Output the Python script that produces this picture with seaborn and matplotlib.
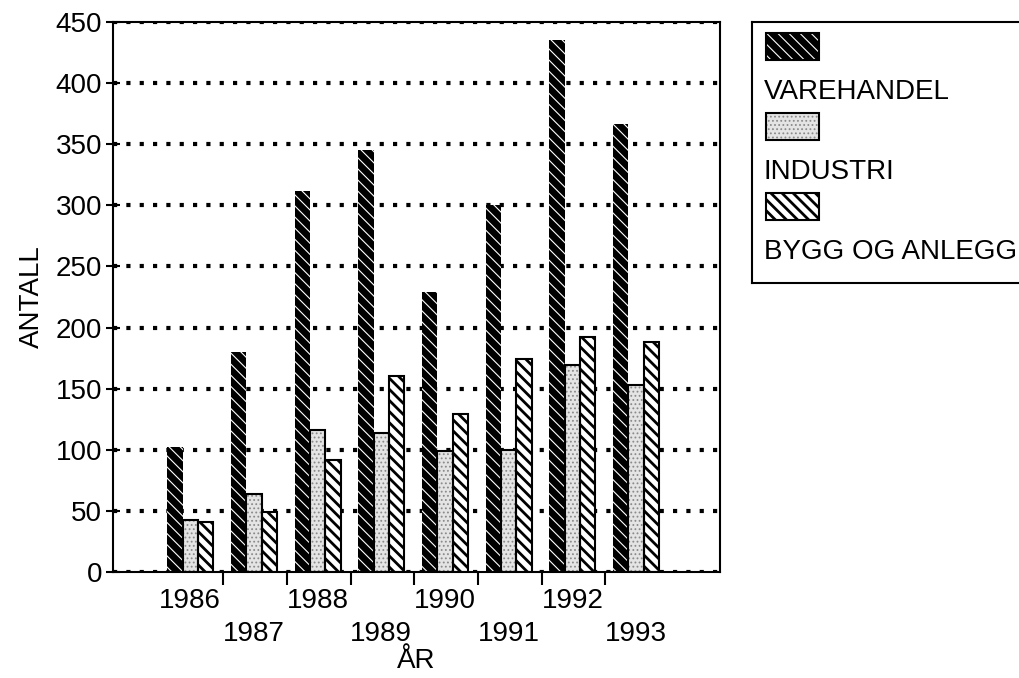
import numpy as np
import pandas as pd
import matplotlib
matplotlib.use("Agg")
import matplotlib.pyplot as plt
from matplotlib.patches import Rectangle
import seaborn as sns

# data
years = ["1986", "1987", "1988", "1989", "1990", "1991", "1992", "1993"]
varehandel = [102, 180, 312, 345, 229, 300, 435, 366]
industri = [43, 64, 116, 114, 99, 100, 169, 153]
bygg = [41, 49, 92, 160, 129, 174, 192, 188]
series = ["VAREHANDEL", "INDUSTRI", "BYGG OG ANLEGG"]

df = pd.DataFrame({
    "år": years * 3,
    "antall": varehandel + industri + bygg,
    "serie": [s for s in series for _ in years],
})

sns.set_theme(style="white")
plt.rcParams["font.family"] = ["Liberation Sans", "DejaVu Sans"]
plt.rcParams["font.size"] = 20

# look of each series: face, hatch colour, hatch, hatch width, outline width
styles = [
    dict(fc="black", ec="white", hatch="\\\\\\", hlw=0.8, olw=0),
    dict(fc="#e4e4e4", ec="#8a8a8a", hatch="....", hlw=0.8, olw=1.5),
    dict(fc="white", ec="black", hatch="\\\\\\", hlw=2.0, olw=1.5),
]


def style_patch(p, st, ax):
    p.set_facecolor(st["fc"])
    p.set_edgecolor(st["ec"])
    p.set_hatch(st["hatch"])
    p.set_linewidth(0)
    if hasattr(p, "set_hatch_linewidth"):
        p.set_hatch_linewidth(st["hlw"])
    if st["olw"] > 0:
        ax.add_patch(Rectangle(p.get_xy(), p.get_width(), p.get_height(),
                               fill=False, ec="black", lw=st["olw"], zorder=p.get_zorder() + 0.1))


fig = plt.figure(figsize=(10.2, 6.78), dpi=100)
ax = fig.add_axes([0.111, 0.156, 0.595, 0.812])

sns.barplot(data=df, x="år", y="antall", hue="serie", order=years, hue_order=series,
            width=0.72, gap=0, errorbar=None, legend=False, saturation=1,
            palette=["black", "#e4e4e4", "white"], ax=ax)

for cont, st in zip(ax.containers, styles):
    for p in cont:
        style_patch(p, st, ax)

ax.set_xlim(-1.21, 8.32)
ax.set_ylim(0, 450)
ax.set_yticks(np.arange(0, 451, 50))

# staggered year labels
ax.set_xticks(range(len(years)))
ax.set_xticklabels([y if i % 2 == 0 else "\n" + y for i, y in enumerate(years)])
plt.setp(ax.get_xticklabels(), linespacing=1.35)
ax.set_xticks(np.arange(len(years) - 1) + 0.52, minor=True)
ax.tick_params(axis="x", which="major", length=0, pad=11, labelsize=20)
ax.tick_params(axis="x", which="minor", direction="out", length=9, width=1.5, color="black")
ax.tick_params(axis="y", direction="inout", length=10, width=1.5, color="black", pad=3, labelsize=20)
ax.tick_params(axis="both", labelcolor="black")
ax.xaxis.set_tick_params(bottom=True, which="both")
ax.yaxis.set_tick_params(left=True)

ax.set_axisbelow(True)
ax.yaxis.grid(True, color="black", linewidth=3, linestyle=(0, (1, 2.2)))
ax.xaxis.grid(False)
for s in ax.spines.values():
    s.set_color("black")
    s.set_linewidth(1.5)

ax.set_xlabel("ÅR", fontsize=20, labelpad=1, color="black")
ax.set_ylabel("ANTALL", fontsize=20, labelpad=8, color="black")

# legend: patch above each label, like the original
lax = fig.add_axes([752 / 1020, 1 - 283 / 678, 280 / 1020, 261 / 678])
lax.set_xlim(0, 280)
lax.set_ylim(261, 0)
lax.set_xticks([])
lax.set_yticks([])
for s in lax.spines.values():
    s.set_color("black")
    s.set_linewidth(1.5)
for i, (name, st) in enumerate(zip(series, styles)):
    y0 = 11 + i * 80
    r = Rectangle((14, y0), 53, 27)
    lax.add_patch(r)
    style_patch(r, dict(st, olw=1.5), lax)
    lax.text(12, y0 + 59, name, va="center", ha="left", fontsize=20, color="black")

fig.savefig("out.png", dpi=100)
